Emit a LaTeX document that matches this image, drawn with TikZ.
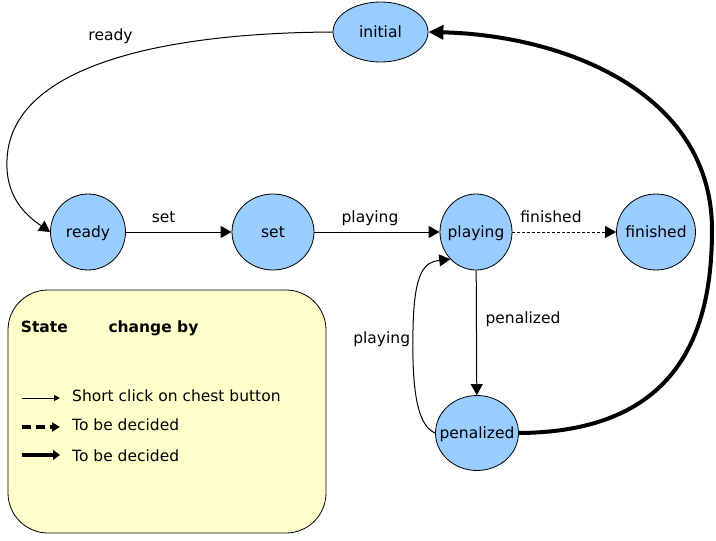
\documentclass[tikz,border=0pt]{standalone}
\usepackage{fontspec}
\setmainfont{DejaVu Sans}
\usetikzlibrary{arrows.meta,shapes.geometric}
\definecolor{etat}{HTML}{99CCFF}
\definecolor{fond}{HTML}{FFFFCC}
\begin{document}
\begin{tikzpicture}[x=1pt,y=-1pt,font=\fontsize{15.5}{18}\selectfont]
    \newcommand\leg[5]{\coordinate (#1a) at (22,#2); \coordinate (#1b) at (60,#2);
                       \draw[#4] (#1a) -- (#1b);
                       \node[lbl,anchor=base west] (#1) at (72,#3) {#5};}
    \tikzstyle{state}=[ellipse,draw,fill=etat,line width=.8pt,inner xsep=-15pt,inner ysep=0pt,
                       text height=11pt,text depth=0pt,minimum height=76pt]
    \tikzstyle{lbl}=[inner sep=0pt,anchor=base]
    \tikzstyle{e}=[-{Triangle[length=11pt,width=12pt]},line width=1pt]
    \tikzstyle{td}=[-{Triangle[length=11pt,width=12pt]},line width=.8pt,dash pattern=on 3pt off 2pt]
    \tikzstyle{big}=[-{Triangle[length=15pt,width=14pt]},line width=4pt]
    \useasboundingbox (0,0) rectangle (716,541);
    \node[state,minimum width=95pt,minimum height=60pt] at (380.5,32) (initial) {initial};
    \node[state,minimum width=75pt] at (88,232)  (ready)     {ready};
    \node[state,minimum width=82pt] at (273,232) (set)       {set};
    \node[state,minimum width=72pt] at (476,232) (playing)   {playing};
    \node[state,minimum width=79pt] at (656,232) (finished)  {finished};
    \node[state,minimum width=83pt,minimum height=75pt] at (477,433) (penalized) {penalized};
    \node[lbl] at (110.5,40.5) (lready) {ready};
    \node[lbl] at (163.7,222)  (lset)   {set};
    \node[lbl] at (370,222)    (lplay)  {playing};
    \node[lbl] at (551,222)    (lfin)   {finished};
    \node[lbl] at (523,323.5)  (lpen)   {penalized};
    \node[lbl] at (381.7,343)  (lback)  {playing};
    \draw[e] (ready) -- (set);
    \draw[e] (set) -- (playing);
    \draw[td] (playing) -- (finished);
    \draw[e] (playing) -- (penalized);
    \draw[e] (initial.west) .. controls (150,33) and (10,70) .. (7,160)
                            .. controls (5,200) and (30,218) .. (ready.west);
    \draw[e] (penalized.west) .. controls (415,425) and (412,380) .. (413,330)
                              .. controls (414,270) and (425,262) .. (playing.south west);
    \draw[big] (penalized.east) .. controls (680,432) and (712,330) .. (712,230)
                                .. controls (712,90) and (560,35) .. (initial.east);
    % legende
    \node[draw,fill=fond,line width=.8pt,rounded corners=40pt,minimum width=318pt,minimum height=243pt]
         at (167,411.5) (box) {};
    \node[lbl,anchor=base west] at (20.7,332) (hstate) {\bfseries State};
    \node[lbl,anchor=base west] at (108.3,332) (hchange) {\bfseries change by};
    \leg{click}{398}{401}{-{Triangle[length=6pt,width=6pt]},line width=1pt}{Short click on chest button}
    \leg{tbda}{427}{430}{-{Triangle[length=8pt,width=9pt]},line width=3.3pt,dash pattern=on 9pt off 5pt}{To be decided}
    \leg{tbdb}{455}{461}{-{Triangle[length=7pt,width=10pt]},line width=4pt}{To be decided}
\end{tikzpicture}
\end{document}
